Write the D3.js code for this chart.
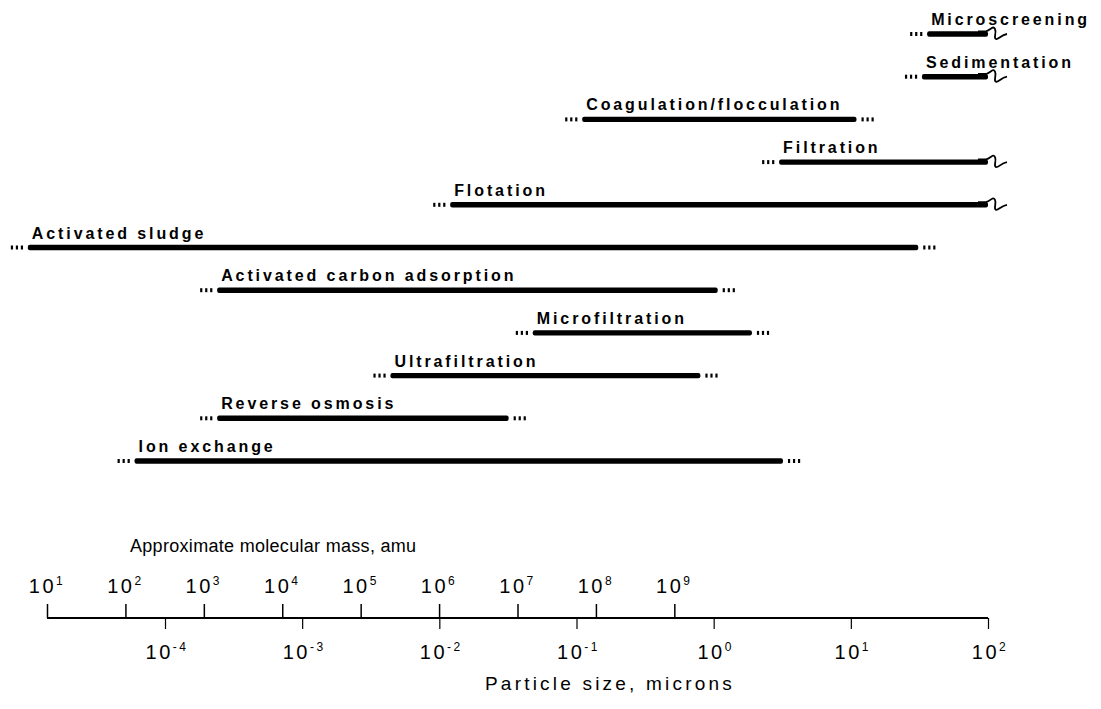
<!DOCTYPE html>
<html>
<head>
<meta charset="utf-8">
<script src="https://cdn.jsdelivr.net/npm/d3@7"></script>
<style>
  body { margin: 0; background: #fff; }
  text { font-family: "Liberation Sans", Arial, sans-serif; fill: #000; }
</style>
</head>
<body>
<div id="chart"></div>
<script>
// processes and their particle size range (microns)
var processes = ["Microscreening", "Sedimentation", "Coagulation/flocculation", "Filtration",
  "Flotation", "Activated sludge", "Activated carbon adsorption", "Microfiltration",
  "Ultrafiltration", "Reverse osmosis", "Ion exchange"]
var rangeLow  = [36, 33, 0.11, 3, 0.012, 1e-5, 2.4e-4, 0.048, 0.0044, 2.4e-4, 6e-5]
var rangeHigh = [100, 100, 11, 100, 100, 31, 1.07, 1.9, 0.8, 0.032, 3.2]
// true = open ended (wavy end), false = dotted end
var openEnd = [true, true, false, true, true, false, false, false, false, false, false]

var massTicks = [1e1, 1e2, 1e3, 1e4, 1e5, 1e6, 1e7, 1e8, 1e9]
var massExp = ["1", "2", "3", "4", "5", "6", "7", "8", "9"]
var sizeTicks = [1e-4, 1e-3, 1e-2, 1e-1, 1e0, 1e1, 1e2]
var sizeExp = ["-4", "-3", "-2", "-1", "0", "1", "2"]

var width = 1101,
    height = 709
var x0 = 47, x1 = 988, axisY = 618

var svg = d3.select("#chart")
  .append("svg")
    .attr("width", width)
    .attr("height", height)

svg.append("rect").attr("width", width).attr("height", height).attr("fill", "#fff")

// particle size scale, 10^-4 at 165 and 10^2 at 988
var size = d3.scaleLog()
  .domain([1e-4, 1e2])
  .range([165, 988])
var mass = d3.scaleLog()
  .domain([1e1, 1e13])
  .range([x0, x1])

var y = d3.scalePoint()
  .domain(processes)
  .range([34, 461])

var rows = processes.map(function(p, i) {
  return {name: p, lo: rangeLow[i], hi: rangeHigh[i], open: openEnd[i]}
})

var g = svg.selectAll("g.proc")
  .data(rows)
  .enter()
  .append("g")
    .attr("class", "proc")
    .attr("transform", function(d) { return "translate(0," + y(d.name) + ")" })

// main bar
g.append("rect")
  .attr("x", function(d) { return size(d.lo) })
  .attr("y", -2.7)
  .attr("width", function(d) { return size(d.hi) - size(d.lo) })
  .attr("height", 5.4)
  .attr("rx", 2)

// dots and ends
g.each(function(d) {
  var sel = d3.select(this)
  var s = size(d.lo), e = size(d.hi)
  ;[-17, -12, -7].forEach(function(o) {
    sel.append("rect").attr("x", s + o).attr("y", -2).attr("width", 2.2).attr("height", 4)
  })
  if (d.open) {
    sel.append("path")
      .attr("d", "M" + (e - 10) + ",-2.7 L" + (e - 2) + ",-2.7 C" + (e + 3) + ",-4 " + (e + 5) + ",-9 " + (e + 7) + ",-5"
        + " C" + (e + 9) + ",-1 " + (e + 5) + ",4 " + (e + 8) + ",5 C" + (e + 10) + ",6 " + (e + 13) + ",1 " + (e + 19) + ",0")
      .attr("fill", "none")
      .attr("stroke", "#000")
      .attr("stroke-width", 1.8)
  } else {
    ;[5, 10, 15].forEach(function(o) {
      sel.append("rect").attr("x", e + o).attr("y", -2).attr("width", 2.2).attr("height", 4)
    })
  }
})

g.append("text")
  .text(function(d) { return d.name })
  .attr("x", function(d) { return size(d.lo) + 4 })
  .attr("y", -9)
  .style("font-size", "16px")
  .style("font-weight", "bold")
  .style("letter-spacing", "2.9px")

// axes
svg.append("line")
  .attr("x1", x0).attr("x2", x1)
  .attr("y1", axisY).attr("y2", axisY)
  .attr("stroke", "#000").attr("stroke-width", 2)

var massAxis = svg.append("g")
  .attr("transform", "translate(0," + axisY + ")")
  .call(d3.axisTop(mass).tickValues(massTicks).tickSize(14).tickFormat(""))
massAxis.select(".domain").remove()
massAxis.selectAll("line").attr("stroke-width", 1.5)

var sizeAxis = svg.append("g")
  .attr("transform", "translate(0," + axisY + ")")
  .call(d3.axisBottom(size).tickValues(sizeTicks).tickSize(11).tickFormat(""))
sizeAxis.select(".domain").remove()
sizeAxis.selectAll("line").attr("stroke-width", 1.2)

function powLabel(sel, exps) {
  sel.each(function(d, i) {
    var t = d3.select(this)
    t.append("tspan").text("10")
    t.append("tspan").text(exps[i])
      .attr("dy", -8)
      .style("font-size", "12px")
  })
}

svg.append("g").selectAll("text")
  .data(massTicks)
  .enter()
  .append("text")
    .attr("x", function(d) { return mass(d) })
    .attr("y", 593)
    .attr("text-anchor", "middle")
    .style("font-size", "20px")
    .style("letter-spacing", "2.5px")
    .call(powLabel, massExp)

svg.append("g").selectAll("text")
  .data(sizeTicks)
  .enter()
  .append("text")
    .attr("x", function(d) { return size(d) + 2 })
    .attr("y", 659)
    .attr("text-anchor", "middle")
    .style("font-size", "20px")
    .style("letter-spacing", "2.5px")
    .call(powLabel, sizeExp)

svg.append("text")
  .text("Approximate molecular mass, amu")
  .attr("x", 130)
  .attr("y", 552)
  .style("font-size", "18px")
  .style("letter-spacing", "0.3px")

svg.append("text")
  .text("Particle size, microns")
  .attr("x", 485)
  .attr("y", 690)
  .style("font-size", "19px")
  .style("letter-spacing", "3.2px")
</script>
</body>
</html>
